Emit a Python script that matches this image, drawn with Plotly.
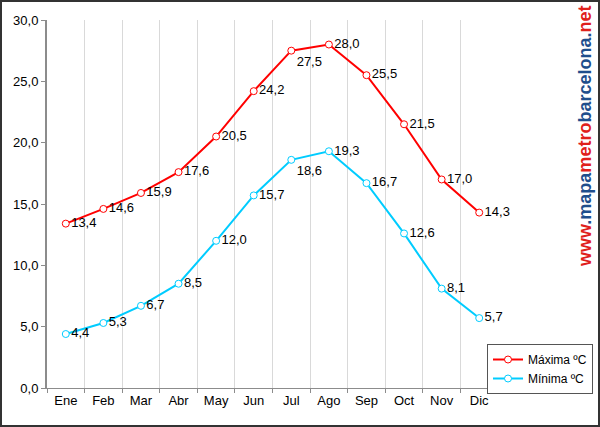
import plotly.graph_objects as go

months = ["Ene", "Feb", "Mar", "Abr", "May", "Jun", "Jul", "Ago", "Sep", "Oct", "Nov", "Dic"]
maxima = [13.4, 14.6, 15.9, 17.6, 20.5, 24.2, 27.5, 28.0, 25.5, 21.5, 17.0, 14.3]
minima = [4.4, 5.3, 6.7, 8.5, 12.0, 15.7, 18.6, 19.3, 16.7, 12.6, 8.1, 5.7]
max_labels = ["13,4", "14,6", "15,9", "17,6", "20,5", "24,2", "27,5", "28,0", "25,5", "21,5", "17,0", "14,3"]
min_labels = ["4,4", "5,3", "6,7", "8,5", "12,0", "15,7", "18,6", "19,3", "16,7", "12,6", "8,1", "5,7"]
y_ticks = [0, 5, 10, 15, 20, 25, 30]

W, H = 600, 427
ML, MR, MT, MB = 47, 5, 20, 39
PW, PH = W - ML - MR, H - MT - MB   # paper area
PLOT_W = 451                          # actual plot width in px
D = PLOT_W / PW

max_pos = ["middle right"] * 12
max_pos[6] = "bottom right"
min_pos = ["middle right"] * 12
min_pos[6] = "bottom right"

font_fam = "Liberation Sans, Arial, sans-serif"

def px_x(px):
    return (px - ML) / PW

def px_y(py):
    return (H - MB - py) / PH

fig = go.Figure()
fig.add_trace(go.Scatter(
    x=months, y=maxima, name="Máxima ºC", mode="lines+markers+text",
    text=max_labels, textposition=max_pos,
    textfont=dict(size=13, color="#000000", family=font_fam),
    line=dict(color="#FF0000", width=2),
    marker=dict(symbol="circle", size=7, color="white", line=dict(color="#FF0000", width=1)),
    cliponaxis=False,
))
fig.add_trace(go.Scatter(
    x=months, y=minima, name="Mínima ºC", mode="lines+markers+text",
    text=min_labels, textposition=min_pos,
    textfont=dict(size=13, color="#000000", family=font_fam),
    line=dict(color="#00CCFF", width=2),
    marker=dict(symbol="circle", size=7, color="white", line=dict(color="#00CCFF", width=1)),
    cliponaxis=False,
))

fig.update_layout(
    width=W, height=H,
    margin=dict(l=ML, r=MR, t=MT, b=MB, pad=0),
    paper_bgcolor="white", plot_bgcolor="white",
    separators=",.",
    font=dict(family=font_fam, size=13, color="#000000"),
    showlegend=True,
    legend=dict(
        x=px_x(593), y=px_y(344), xanchor="right", yanchor="top",
        bgcolor="white", bordercolor="#555555", borderwidth=1,
        font=dict(size=12, family=font_fam), tracegroupgap=0,
        itemwidth=30,
    ),
    xaxis=dict(
        type="category", tickson="boundaries", domain=[0, D],
        showgrid=True, gridcolor="#D9D9D9", gridwidth=1,
        showline=True, linecolor="#8C8C8C", linewidth=1,
        ticks="outside", ticklen=4, tickcolor="#8C8C8C",
        tickfont=dict(size=13), range=[-0.5, 11.5], zeroline=False,
    ),
    yaxis=dict(
        range=[0, 30], tickvals=y_ticks, tickformat=".1f",
        showgrid=False, zeroline=False,
        showline=True, linecolor="#8C8C8C", linewidth=2,
        ticks="outside", ticklen=4, tickcolor="#8C8C8C",
        tickfont=dict(size=13),
    ),
    shapes=[dict(
        type="rect", xref="paper", yref="paper",
        x0=px_x(1), x1=px_x(W - 1),
        y0=px_y(H - 1), y1=px_y(1),
        line=dict(color="#333333", width=2), fillcolor="rgba(0,0,0,0)", layer="below",
    )],
    annotations=[dict(
        xref="paper", yref="paper",
        x=px_x(585), y=px_y(137),
        xanchor="center", yanchor="middle", textangle=-90, showarrow=False,
        text=("<b><span style='color:#E0201B'>www</span>"
              "<span style='color:#1F4E8C'>.mapa</span>"
              "<span style='color:#E0201B'>metro</span>"
              "<span style='color:#1F4E8C'>barcelona.</span>"
              "<span style='color:#E0201B'>net</span></b>"),
        font=dict(size=18, family=font_fam),
    )],
)
fig.update_traces(hoverinfo="skip")

fig.write_html("out.html", config={"displayModeBar": False},
               post_script="document.body.style.margin='0';")
